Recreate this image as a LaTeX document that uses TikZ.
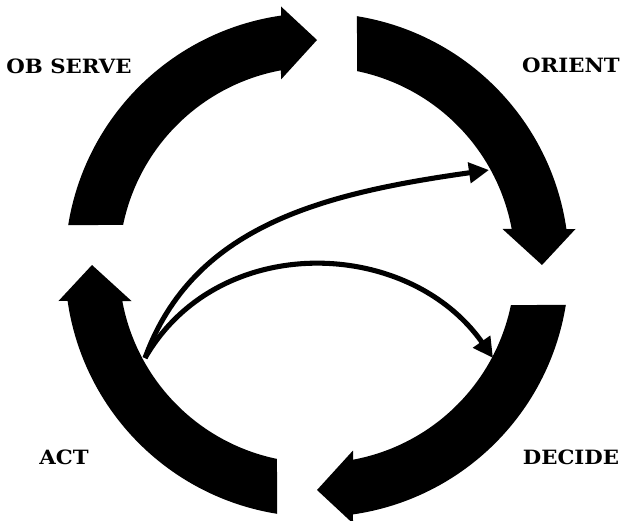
\documentclass[tikz,border=0pt]{standalone}
\usepackage{fontspec}
\newfontfamily\stagefont{DejaVu Serif}[FakeStretch=1.08]
\usetikzlibrary{arrows.meta}
\tikzset{
  stage/.style={font=\stagefont\bfseries\fontsize{14}{15}\selectfont, inner sep=0pt},
  loop/.style={line width=3.6pt, -{Triangle[length=0.5cm,width=0.5cm]}}
}
\begin{document}
\begin{tikzpicture}[x=0.025cm, y=0.025cm]
  \useasboundingbox (0,0) rectangle (622,520);
  % the four thick arcs of the cycle, one shape turned a quarter each time
  \foreach \r in {0,-90,-180,-270}
    \fill[shift={(317,255)}, rotate=\r] (170.87:252) arc[start angle=170.87, end angle=98.21, radius=252]
      -- (-36,258.5) -- (0,225) -- (-36,185.5)
      -- (100.48:198) arc[start angle=100.48, end angle=168.34, radius=198] -- cycle;
  \node[stage] (observe) at (69,454) {OB SERVE};
  \node[stage] (orient) at (571,455) {ORIENT};
  \node[stage] (act) at (64,63) {ACT};
  \node[stage] (decide) at (571,63) {DECIDE};
  % feedback from act
  \coordinate (actout) at (145,162);
  \coordinate (orientin) at (489,350);
  \coordinate (decidein) at (493,162);
  \draw[loop] (actout) .. controls +(70:140) and +(188:170) .. (orientin);
  \draw[loop] (actout) .. controls +(60:147) and +(125:147) .. (decidein);
\end{tikzpicture}
\end{document}
